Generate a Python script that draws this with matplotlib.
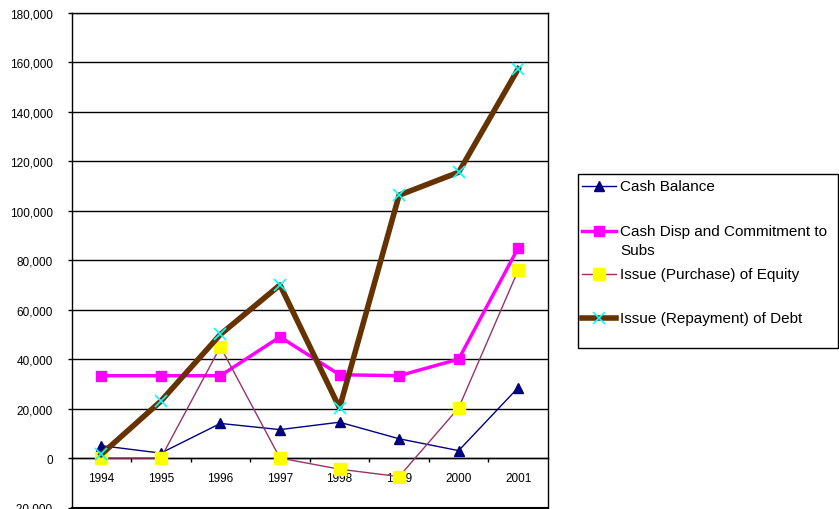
import matplotlib
matplotlib.use("Agg")
import matplotlib.pyplot as plt
from matplotlib.lines import Line2D
from matplotlib.patches import Rectangle
from matplotlib.ticker import FuncFormatter, MultipleLocator, FixedLocator

plt.rcParams['font.family'] = ['Liberation Sans', 'DejaVu Sans']

years = ['1994', '1995', '1996', '1997', '1998', '1999', '2000', '2001']
cash_balance = [5000, 2000, 14000, 11500, 14500, 7800, 3000, 28500]
cash_disp = [33300, 33300, 33300, 49000, 33700, 33300, 40000, 85000]
equity = [0, 0, 45000, 0, -4500, -7500, 20300, 76000]
debt = [1500, 23000, 50000, 70000, 20300, 106300, 115600, 157400]

series_labels = ['Cash Balance', 'Cash Disp and Commitment to\nSubs',
                 'Issue (Purchase) of Equity', 'Issue (Repayment) of Debt']

W, H = 839, 510
fig = plt.figure(figsize=(W / 100, H / 100), dpi=100)
ax = fig.add_axes([71.5 / W, 1 - 508.5 / H, (548 - 71.5) / W, (508.5 - 14) / H])

x = list(range(len(years)))
styles = [
    dict(color='#000080', lw=1.0, marker='^', ms=7.5, mfc='#000080', mec='#000080'),
    dict(color='#FF00FF', lw=2.5, marker='s', ms=7, mfc='#FF00FF', mec='#FF00FF'),
    dict(color='#993366', lw=1.0, marker='s', ms=9, mfc='#FFFF00', mec='#FFFF00'),
    dict(color='#663300', lw=4.0, marker='x', ms=9, mfc='#00FFFF', mec='#00FFFF', mew=1.2),
]
data = [cash_balance, cash_disp, equity, debt]
for d, st in zip(data, styles):
    ax.plot(x, d, **st, zorder=3)

ax.set_xlim(-0.5, len(years) - 0.5)
ax.set_ylim(-20000, 180000)
ax.yaxis.set_major_locator(MultipleLocator(20000))
ax.yaxis.set_major_formatter(FuncFormatter(lambda v, p: f"{int(v):,}"))
ax.grid(axis='y', color='black', lw=1.0, zorder=1)
ax.tick_params(axis='y', direction='out', length=3, width=1, labelsize=8.5, pad=10.5)

# x axis crossing at zero
ax.spines['bottom'].set_position(('data', 0))
ax.set_xticks(x)
ax.set_xticklabels(years)
ax.xaxis.set_minor_locator(FixedLocator([i + 0.5 for i in range(len(years) - 1)]))
ax.tick_params(axis='x', which='major', length=0, labelsize=8.5, pad=10)
ax.tick_params(axis='x', which='minor', direction='out', length=3, width=1)
for s in ax.spines.values():
    s.set_color('black')
    s.set_linewidth(1.0)
ax.add_line(Line2D([0, 1], [0, 0], transform=ax.transAxes, color='black', lw=1.5, clip_on=False))

# legend (manual, pixel layout)
def fx(px):
    return px / W

def fy(py):
    return 1 - py / H

fig.add_artist(Rectangle((fx(578), fy(349)), fx(838) - fx(578), fy(175) - fy(349),
                         transform=fig.transFigure, fill=False, edgecolor='black', lw=1.0))
entry_y = [187, 232, 275, 319]
for yy, st, lab in zip(entry_y, styles, series_labels):
    fig.add_artist(Line2D([fx(582), fx(616)], [fy(yy), fy(yy)], transform=fig.transFigure,
                          color=st['color'], lw=st['lw']))
    fig.add_artist(Line2D([fx(599)], [fy(yy)], transform=fig.transFigure, linestyle='none',
                          marker=st['marker'], ms=st['ms'], mfc=st['mfc'], mec=st['mec'],
                          mew=st.get('mew', 1.0)))
    lines = lab.split('\n')
    for k, ln in enumerate(lines):
        fig.text(fx(620), fy(yy + k * 19), ln, fontsize=11, va='center', ha='left')

fig.savefig('out.png', dpi=100)
